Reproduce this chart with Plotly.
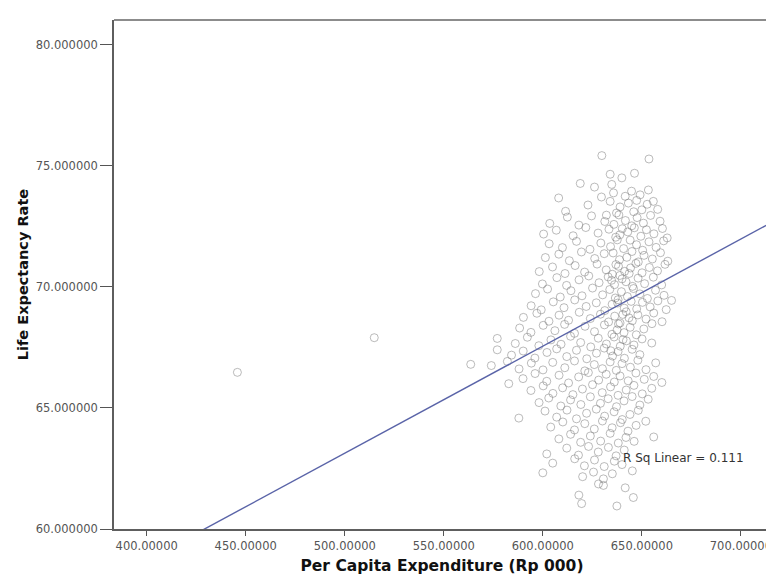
import plotly.graph_objects as go

# ---- data ----
expenditure = [
    629.8, 653.6, 618.9, 634.0, 639.9, 646.3, 634.8, 653.3, 626.1, 608.0,
    635.7, 649.1, 634.0, 643.2, 647.4, 655.8, 639.0, 650.0, 658.0, 629.6,
    644.8, 622.8, 611.5, 637.2, 641.6, 632.1, 645.9, 652.7, 603.5, 612.4,
    618.2, 624.6, 631.3, 635.9, 638.4, 641.7, 644.9, 647.6, 650.8, 654.4,
    659.2, 640.1, 600.4, 606.8, 615.3, 621.7, 627.9, 633.4, 636.8, 642.9,
    646.2, 649.5, 652.3, 656.1, 660.4, 662.8, 638.9, 644.1, 603.2, 609.9,
    617.0, 623.8, 629.3, 634.2, 637.6, 640.8, 647.3, 650.4, 653.6, 657.2,
    661.0, 635.5, 642.4, 601.3, 608.1, 613.4, 619.5, 626.2, 631.0, 638.7,
    645.0, 648.2, 651.1, 655.3, 659.4, 663.1, 636.9, 644.3, 598.2, 604.9,
    611.2, 616.3, 621.1, 627.4, 632.0, 635.1, 638.2, 641.3, 647.0, 650.1,
    653.8, 657.9, 661.7, 640.0, 599.8, 607.1, 612.0, 618.3, 623.2, 628.4,
    633.0, 636.2, 638.9, 642.0, 645.3, 648.1, 651.4, 655.8, 660.0, 643.6,
    634.7, 596.3, 602.4, 608.8, 614.2, 619.8, 625.1, 630.2, 633.8, 636.6,
    639.7, 642.7, 645.8, 649.0, 652.8, 656.9, 661.2, 665.0, 637.8, 641.1,
    644.6, 594.1, 599.2, 605.3, 610.7, 616.1, 621.9, 627.0, 631.3, 635.0,
    638.0, 647.4, 650.3, 654.2, 658.1, 662.3, 640.4, 643.5, 590.2, 597.0,
    603.1, 608.2, 613.0, 618.4, 624.0, 629.1, 633.2, 636.3, 639.0, 642.1,
    645.2, 648.0, 652.1, 656.0, 660.2, 637.5, 588.3, 594.0, 600.2, 606.1,
    611.0, 616.0, 621.3, 626.1, 631.1, 634.9, 638.2, 641.0, 644.1, 647.2,
    651.0, 655.1, 640.5, 577.0, 586.1, 592.2, 598.0, 604.1, 609.2, 614.0,
    619.1, 624.2, 628.0, 632.1, 636.0, 639.1, 642.2, 646.0, 650.1, 655.0,
    634.3, 577.0, 584.2, 590.1, 596.0, 602.1, 607.0, 612.1, 617.0, 622.2,
    627.1, 631.0, 635.2, 638.0, 641.2, 645.1, 649.0, 563.6, 574.0, 582.1,
    588.0, 594.2, 600.1, 605.0, 611.1, 616.0, 621.2, 626.0, 630.1, 634.0,
    637.1, 640.0, 644.2, 648.0, 652.1, 657.0, 582.8, 590.0, 596.1, 602.0,
    608.2, 613.0, 618.1, 623.0, 628.2, 632.0, 636.1, 639.0, 643.1, 647.0,
    651.2, 656.0, 660.1, 594.0, 600.2, 605.1, 610.0, 615.2, 620.0, 625.1,
    630.0, 634.2, 638.0, 642.1, 646.0, 650.2, 655.0, 598.1, 603.0, 609.1,
    614.0, 619.2, 624.0, 629.1, 633.0, 637.2, 641.0, 645.1, 649.0, 653.2,
    587.9, 601.1, 607.0, 612.2, 617.0, 622.1, 627.0, 631.2, 636.0, 640.1,
    644.0, 648.2, 604.0, 610.1, 616.0, 621.2, 626.0, 630.1, 635.0, 639.2,
    643.0, 647.1, 652.0, 608.1, 614.0, 619.1, 624.0, 629.2, 634.0, 638.1,
    642.0, 646.1, 656.0, 602.0, 612.1, 618.0, 623.1, 628.0, 633.1, 637.0,
    641.1, 605.0, 616.1, 621.0, 626.1, 631.0, 636.1, 640.0, 600.0, 620.1,
    625.6, 630.6, 635.1, 645.2, 618.2, 628.1, 630.6, 641.6, 619.6, 637.4,
    645.7, 445.8, 514.9,
]

life_expectancy = [
    75.42, 75.28, 74.27, 74.65, 74.50, 74.69, 74.23, 74.00, 74.12, 73.67,
    73.88, 73.80, 73.53, 73.46, 73.57, 73.53, 73.30, 73.18, 73.20, 73.71,
    73.95, 73.38, 73.12, 73.05, 73.74, 72.96, 73.10, 73.41, 72.62, 72.88,
    72.55, 72.93, 72.70, 72.58, 72.97, 72.74, 72.52, 72.86, 72.63, 72.95,
    72.71, 72.40, 72.18, 72.34, 72.11, 72.45, 72.22, 72.38, 72.05, 72.27,
    72.44, 72.09, 72.36, 72.19, 72.41, 72.02, 72.15, 71.93, 71.78, 71.62,
    71.88, 71.55, 71.81, 71.66, 71.94, 71.58, 71.74, 71.51, 71.86, 71.63,
    71.90, 71.40, 71.22, 71.21, 71.35, 71.08, 71.44, 71.17, 71.37, 71.12,
    71.46, 71.03, 71.30, 71.15, 71.41, 71.06, 70.92, 70.78, 70.63, 70.82,
    70.55, 70.88, 70.61, 70.94, 70.70, 70.52, 70.85, 70.64, 70.97, 70.58,
    70.80, 70.66, 70.93, 70.33, 70.12, 70.38, 70.06, 70.29, 70.45, 70.17,
    70.41, 70.09, 70.47, 70.21, 70.02, 70.36, 70.13, 70.40, 70.08, 70.55,
    70.27, 69.72, 69.91, 69.58, 69.84, 69.63, 69.95, 69.67, 69.89, 69.54,
    69.80, 69.60, 69.93, 69.71, 69.52, 69.86, 69.65, 69.44, 69.33, 69.12,
    69.40, 69.22, 69.05, 69.38, 69.14, 69.46, 69.19, 69.34, 69.02, 69.28,
    69.47, 69.09, 69.36, 69.17, 69.42, 69.06, 68.86, 68.72, 68.74, 68.91,
    68.58, 68.83, 68.62, 68.95, 68.69, 68.87, 68.55, 68.79, 68.51, 68.97,
    68.60, 68.84, 68.67, 68.92, 68.56, 68.22, 68.30, 68.12, 68.41, 68.19,
    68.45, 68.08, 68.37, 68.15, 68.43, 68.04, 68.47, 68.11, 68.33, 68.02,
    68.26, 68.48, 67.82, 67.87, 67.66, 67.92, 67.57, 67.81, 67.63, 67.96,
    67.70, 67.52, 67.88, 67.64, 67.93, 67.55, 67.77, 67.60, 67.85, 67.68,
    67.36, 67.40, 67.18, 67.35, 67.06, 67.29, 67.44, 67.12, 67.38, 67.03,
    67.26, 67.47, 67.14, 67.33, 67.05, 67.42, 67.20, 66.80, 66.75, 66.92,
    66.61, 66.85, 66.57, 66.88, 66.66, 66.94, 66.53, 66.79, 66.62, 66.90,
    66.55, 66.83, 66.68, 66.97, 66.58, 66.86, 66.00, 66.21, 66.42, 66.10,
    66.35, 66.03, 66.28, 66.46, 66.15, 66.39, 66.07, 66.32, 66.12, 66.44,
    66.18, 66.30, 66.05, 65.72, 65.91, 65.60, 65.83, 65.55, 65.78, 65.96,
    65.63, 65.87, 65.52, 65.74, 65.93, 65.58, 65.81, 65.22, 65.41, 65.08,
    65.33, 65.14, 65.46, 65.19, 65.38, 65.05, 65.29, 65.47, 65.12, 65.36,
    64.58, 64.87, 64.62, 64.91, 64.55, 64.78, 64.95, 64.66, 64.84, 64.52,
    64.73, 64.90, 64.21, 64.42, 64.09, 64.35, 64.13, 64.46, 64.18, 64.39,
    64.04, 64.28, 64.45, 63.72, 63.91, 63.58, 63.84, 63.63, 63.95, 63.55,
    63.78, 63.62, 63.80, 63.10, 63.34, 63.05, 63.41, 63.18, 63.37, 63.02,
    63.26, 62.72, 62.90, 62.61, 62.85, 62.58, 62.80, 62.66, 62.32, 62.16,
    62.35, 62.07, 62.28, 62.40, 61.40, 61.86, 61.80, 61.70, 61.05, 60.95,
    61.30, 66.47, 67.90,
]

fit_slope = 0.04422
fit_intercept = 41.02
r_squared = 0.111

x_range = [383.5, 714.7]
y_range = [60.0, 81.02]
x_ticks = [400, 450, 500, 550, 600, 650, 700]
y_ticks = [60, 65, 70, 75, 80]

# ---- figure ----
fig = go.Figure()

fig.add_trace(go.Scatter(
    x=expenditure, y=life_expectancy, mode="markers",
    marker=dict(symbol="circle-open", size=8,
                color="rgba(120,120,120,0.5)", line=dict(width=1)),
    showlegend=False, hoverinfo="x+y",
))

line_x = list(x_range)
line_y = [fit_intercept + fit_slope * v for v in line_x]
fig.add_trace(go.Scatter(
    x=line_x, y=line_y, mode="lines",
    line=dict(color="#5a64a8", width=1.4),
    showlegend=False, hoverinfo="skip",
))

fig.add_annotation(
    x=639.7, y=62.95, xref="x", yref="y",
    text=f"R Sq Linear = {r_squared:.3f}", showarrow=False,
    xanchor="left", yanchor="middle",
    font=dict(family="DejaVu Sans", size=12, color="#333"),
)

# frame: top edge grey and heavier, right edge light
fig.add_shape(type="line", xref="paper", yref="paper", x0=0, x1=1, y0=1, y1=1,
              line=dict(color="#8c8c8c", width=2.2), layer="above")
fig.add_shape(type="line", xref="paper", yref="paper", x0=1, x1=1, y0=0, y1=1,
              line=dict(color="#b5b5b5", width=1), layer="above")

axis_common = dict(
    showgrid=False, zeroline=False, showline=True, mirror=False,
    linecolor="#5e5e5e", linewidth=1.6, ticks="outside", tickcolor="#555",
    tickwidth=1.3, tickfont=dict(family="DejaVu Sans", size=11.5, color="#555"),
)

fig.update_xaxes(
    range=x_range, tickvals=x_ticks, tickformat=".5f", ticklen=5,
    title=dict(text="Per Capita Expenditure (Rp 000)",
               font=dict(family="DejaVu Sans", size=15.5, color="#111",
                         weight="bold"),
               standoff=9),
    **axis_common,
)
fig.update_yaxes(
    range=y_range, tickvals=y_ticks, tickformat=".6f", ticklen=12,
    title=dict(text="Life Expectancy Rate",
               font=dict(family="DejaVu Sans", size=14.5, color="#111",
                         weight="bold"),
               standoff=4),
    **axis_common,
)

# the page adds an 8px body margin, so the figure is sized/offset for it
fig.update_layout(
    width=766, height=579,
    margin=dict(l=106, r=2, t=12, b=58),
    plot_bgcolor="white", paper_bgcolor="white",
    font=dict(family="DejaVu Sans"),
)

fig.write_html("out.html")
